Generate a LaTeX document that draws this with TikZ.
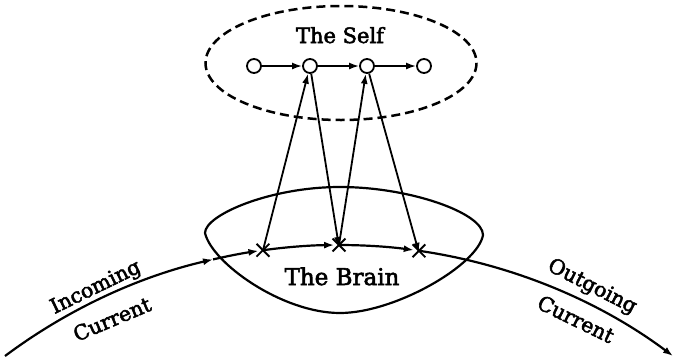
\documentclass[tikz,border=0pt]{standalone}
\usepackage{fontspec}
\setmainfont{DejaVu Serif}
\newfontface\semi{DejaVu Serif}[FakeBold=2.5]
\usetikzlibrary{arrows.meta,calc,shapes.misc}
\begin{document}
\begin{tikzpicture}[x=1pt,y=-1pt,
  arr/.style={line width=1.8pt,-{Latex[length=10pt,width=7pt]}},
  cur/.style={line width=2.2pt,-{Latex[length=10pt,width=7pt]}},
  dot/.style={circle,draw,line width=1.8pt,minimum size=14pt,inner sep=0pt},
  xmark/.style={cross out,draw,line width=1.8pt,minimum size=11pt,inner sep=0pt},
  lbl/.style={font=\semi\fontsize{20.5}{24}\selectfont,inner sep=0pt}]
\useasboundingbox (0,0) rectangle (675,362);
% the self
\draw[line width=2.5pt,dash pattern=on 9pt off 5pt] (341,63) ellipse[x radius=135.5, y radius=57];
\node[font=\semi\fontsize{21}{25}\selectfont,anchor=base,inner sep=0pt] (selflbl) at (340,43) {The Self};
\node[dot] (c1) at (254,66) {};
\node[dot] (c2) at (310,66) {};
\node[dot] (c3) at (367,66) {};
\node[dot] (c4) at (424,66) {};
\draw[arr] (c1) -- (c2);
\draw[arr] (c2) -- (c3);
\draw[arr] (c3) -- (c4);
% the brain
\draw[line width=2.2pt] (205,233) .. controls (205,215) and (270,187) .. (340,187)
  .. controls (410,187) and (483,213) .. (483,235)
  .. controls (478,265) and (395,313) .. (340,313)
  .. controls (282,313) and (212,263) .. (205,233) -- cycle;
\node[font=\semi\fontsize{23}{27}\selectfont,anchor=base,inner sep=0pt] (brainlbl) at (342,285) {The Brain};
% the current
\coordinate (C) at (339,803);
\coordinate (s) at ($(C)+(-126.77:558)$);
\coordinate (in) at ($(C)+(-103.05:558)$);
\coordinate (e) at ($(C)+(-53.23:558)$);
\node[xmark] (x1) at ($(C)+(-97.83:558)$) {};
\node[xmark] (x2) at ($(C)+(-90:558)$) {};
\node[xmark] (x3) at ($(C)+(-81.76:558)$) {};
\draw[cur] (s) arc[start angle=-126.77, end angle=-103.05, radius=558];
\draw[cur] (in) arc[start angle=-103.05, end angle=-98.3, radius=558];
\draw[cur] (x1.center) arc[start angle=-97.83, end angle=-90.5, radius=558];
\draw[cur] (x2.center) arc[start angle=-90, end angle=-82.3, radius=558];
\draw[cur] (x3.center) arc[start angle=-81.76, end angle=-53.23, radius=558];
% links between brain and self
\draw[arr] (x1.center) -- (c2);
\draw[arr] (c2) -- ([yshift=-2pt]x2.center);
\draw[arr] (x2.center) -- (c3);
\draw[arr] (c3) -- ([yshift=-2pt]x3.center);
% labels
\node[lbl,rotate=26] (inc) at (96,288) {Incoming};
\node[lbl,rotate=23] (cur1) at (112,319) {Current};
\node[lbl,rotate=-27] (out) at (592,287) {Outgoing};
\node[lbl,rotate=-26] (cur2) at (576,319) {Current};
\end{tikzpicture}
\end{document}
